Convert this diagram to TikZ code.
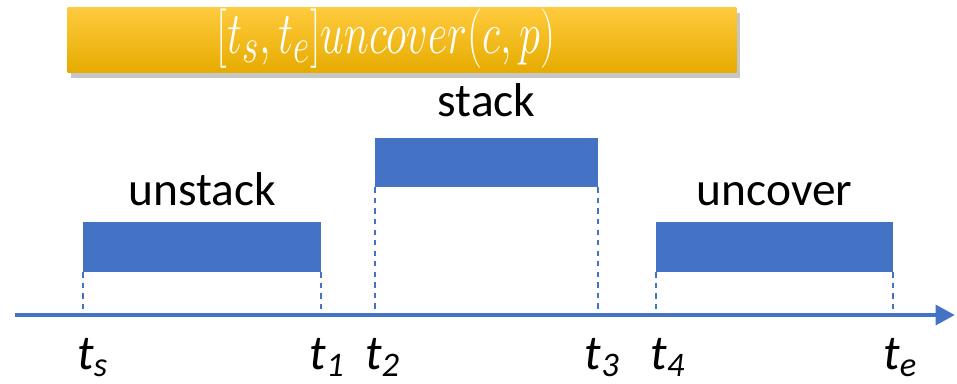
\documentclass[tikz,border=0pt]{standalone}
\usepackage{fontspec}
\setmainfont{Carlito}
\usetikzlibrary{positioning,arrows.meta,shadows}
\definecolor{barblue}{HTML}{4472C4}
\definecolor{goldtop}{HTML}{FFCB3D}
\definecolor{goldbot}{HTML}{E6AB00}

\begin{document}
\begin{tikzpicture}[x=0.02cm, y=-0.02cm, >=Stealth]
    \useasboundingbox (0,0) rectangle (957,383);
    \tikzset{
        bar/.style={fill=barblue, draw=none, minimum height=1cm, inner sep=0pt},
        barlabel/.style={font=\fontsize{27}{30}\selectfont, inner sep=0pt},
        tlabel/.style={font=\fontsize{28}{30}\selectfont\itshape, inner sep=0pt},
        guide/.style={barblue, dashed, line width=1.1pt},
    }

    % Title banner
    \node[top color=goldtop, bottom color=goldbot, draw=none,
          minimum width=13.38cm, minimum height=1.3cm,
          drop shadow={shadow xshift=2pt, shadow yshift=-3pt, opacity=0.45}] (title) at (402,40) {};
    \node[text=white, font=\fontsize{24.88}{28}\selectfont, inner sep=0pt,
          xscale=0.97, yscale=1.36, transform shape] (titletxt) at ([xshift=-0.32cm, yshift=0.02cm]title.center)
          {$[t_s,t_e]uncover(c,p)$};

    % Time axis
    \coordinate (axL) at (15,315);
    \coordinate (axR) at (955,315);
    \draw[barblue, line width=2.8pt, -{Triangle[length=11pt,width=11pt]}] (axL) -- (axR);

    % Actions
    \node[bar, minimum width=4.76cm] (unstack) at (202,247) {};
    \node[bar, minimum width=4.46cm, minimum height=0.98cm] (stack) at (486.5,162.5) {};
    \node[bar, minimum width=4.74cm] (uncover) at (774.5,247) {};

    \node[barlabel, above=0.3cm of unstack] (unstacklbl) {unstack};
    \node[barlabel, above=0.4cm of stack] (stacklbl) {stack};
    \node[barlabel, above=0.3cm of uncover] (uncoverlbl) {uncover};

    % Time points on the axis
    \coordinate (ts) at (unstack.south west |- axL);
    \coordinate (t1) at (unstack.south east |- axL);
    \coordinate (t2) at (stack.south west |- axL);
    \coordinate (t3) at (stack.south east |- axL);
    \coordinate (t4) at (uncover.south west |- axL);
    \coordinate (te) at (uncover.south east |- axL);

    \draw[guide] (unstack.south west) -- (ts);
    \draw[guide] (unstack.south east) -- (t1);
    \draw[guide] (stack.south west) -- (t2);
    \draw[guide] (stack.south east) -- (t3);
    \draw[guide] (uncover.south west) -- (t4);
    \draw[guide] (uncover.south east) -- (te);

    \node[tlabel, below=0.46cm of ts, xshift=0.2cm] (tslbl) {t\textsubscript{s}};
    \node[tlabel, below=0.46cm of t1, xshift=0.12cm] (t1lbl) {t\textsubscript{1}};
    \node[tlabel, below=0.46cm of t2, xshift=0.16cm] (t2lbl) {t\textsubscript{2}};
    \node[tlabel, below=0.46cm of t3, xshift=0.08cm] (t3lbl) {t\textsubscript{3}};
    \node[tlabel, below=0.46cm of t4, xshift=0.24cm] (t4lbl) {t\textsubscript{4}};
    \node[tlabel, below=0.46cm of te, xshift=0.14cm] (telbl) {t\textsubscript{e}};
\end{tikzpicture}
\end{document}
